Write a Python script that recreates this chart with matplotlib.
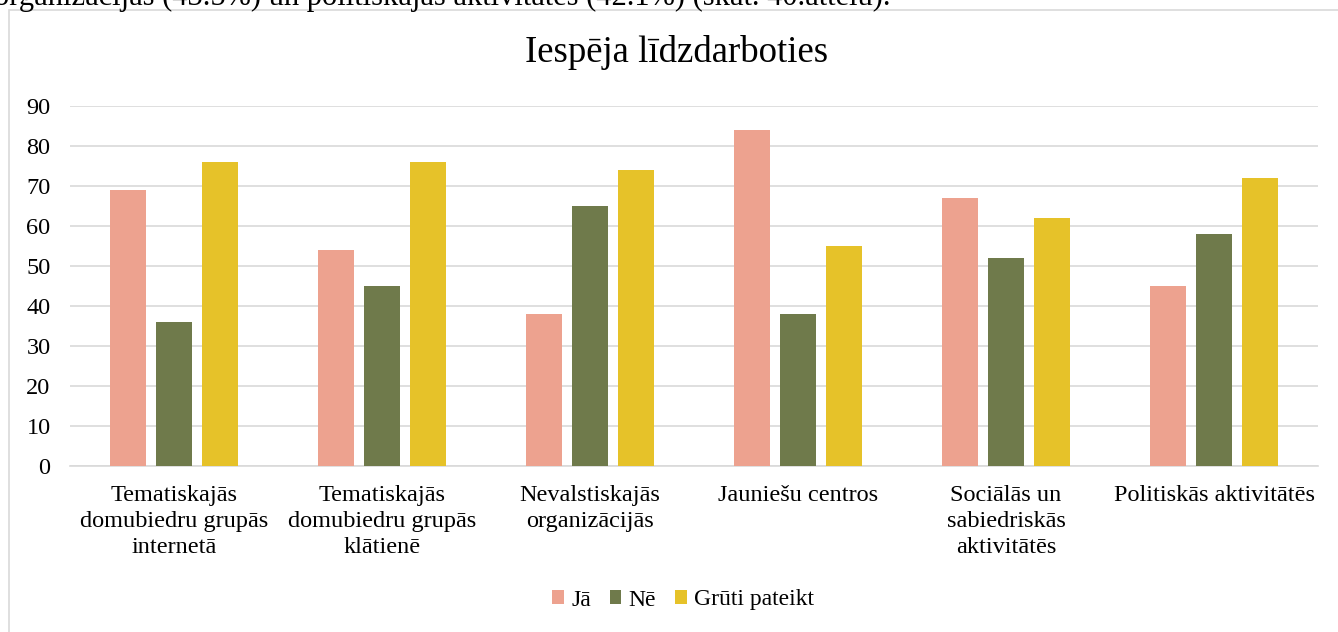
import matplotlib
matplotlib.use('Agg')
import matplotlib.pyplot as plt
import numpy as np
from matplotlib.patches import Rectangle, Patch

plt.rcParams['font.family'] = ['Liberation Serif', 'DejaVu Serif']

# dati
kategorijas = ['Tematiskajās\ndomubiedru grupās\ninternetā',
               'Tematiskajās\ndomubiedru grupās\nklātienē',
               'Nevalstiskajās\norganizācijās',
               'Jauniešu centros',
               'Sociālās un\nsabiedriskās\naktivitātēs',
               'Politiskās aktivitātēs']
ja = [69, 54, 38, 84, 67, 45]
ne = [36, 45, 65, 38, 52, 58]
gruti = [76, 76, 74, 55, 62, 72]
serijas = ['Jā', 'Nē', 'Grūti pateikt']
krasas = ['#EDA28F', '#6F7A4B', '#E6C229']

W, H = 1338, 632
fig = plt.figure(figsize=(W / 100, H / 100), dpi=100)

# nogriezta teksta rinda virs diagrammas (references attēlā tā ir daļēji redzama)
fig.text(-6 / W, 1 - 5 / H, 'organizācijās (43.5%) un politiskajās aktivitātēs (42.1%) (skat. 40.attēlu).',
         fontsize=22, ha='left', va='baseline', color='black')

# diagrammas rāmis
fig.patches.append(Rectangle((9 / W, -0.1), 1.2, 1 - 10 / H + 0.1, transform=fig.transFigure,
                             fill=False, edgecolor='#D9D9D9', linewidth=1.2))

ax = fig.add_axes([70 / W, (H - 466) / H, 1248 / W, 360 / H])
x = np.arange(len(kategorijas))
w = 36 / 208
solis = 46 / 208
for i, (vals, nos) in enumerate(zip([ja, ne, gruti], serijas)):
    ax.bar(x + (i - 1) * solis, vals, width=w, color=krasas[i], label=nos, zorder=3)

ax.set_xlim(-0.5, len(kategorijas) - 0.5)
ax.set_ylim(0, 90)
ax.set_yticks(np.arange(0, 91, 10))
ax.yaxis.grid(True, color='#D9D9D9', linewidth=1.2, zorder=0)
ax.set_axisbelow(True)
for s in ['top', 'right', 'left']:
    ax.spines[s].set_visible(False)
ax.spines['bottom'].set_color('#D9D9D9')
ax.spines['bottom'].set_linewidth(1.2)
ax.tick_params(axis='both', length=0, labelsize=17.5, colors='black')
ax.tick_params(axis='y', pad=14)
ax.tick_params(axis='x', pad=14)
ax.set_xticks(x)
ax.set_xticklabels(kategorijas, linespacing=1.3)

fig.text(677 / W, 1 - 53 / H, 'Iespēja līdzdarboties', fontsize=26.5, ha='center', va='center')

rokturi = [Patch(facecolor=c, label=l) for c, l in zip(krasas, serijas)]
fig.legend(handles=rokturi, loc='center', bbox_to_anchor=(683 / W, 1 - 600 / H), ncol=3,
           frameon=False, fontsize=17, handlelength=0.5, handleheight=0.5,
           handletextpad=0.3, columnspacing=0.8)

fig.savefig('out.png', dpi=100)
